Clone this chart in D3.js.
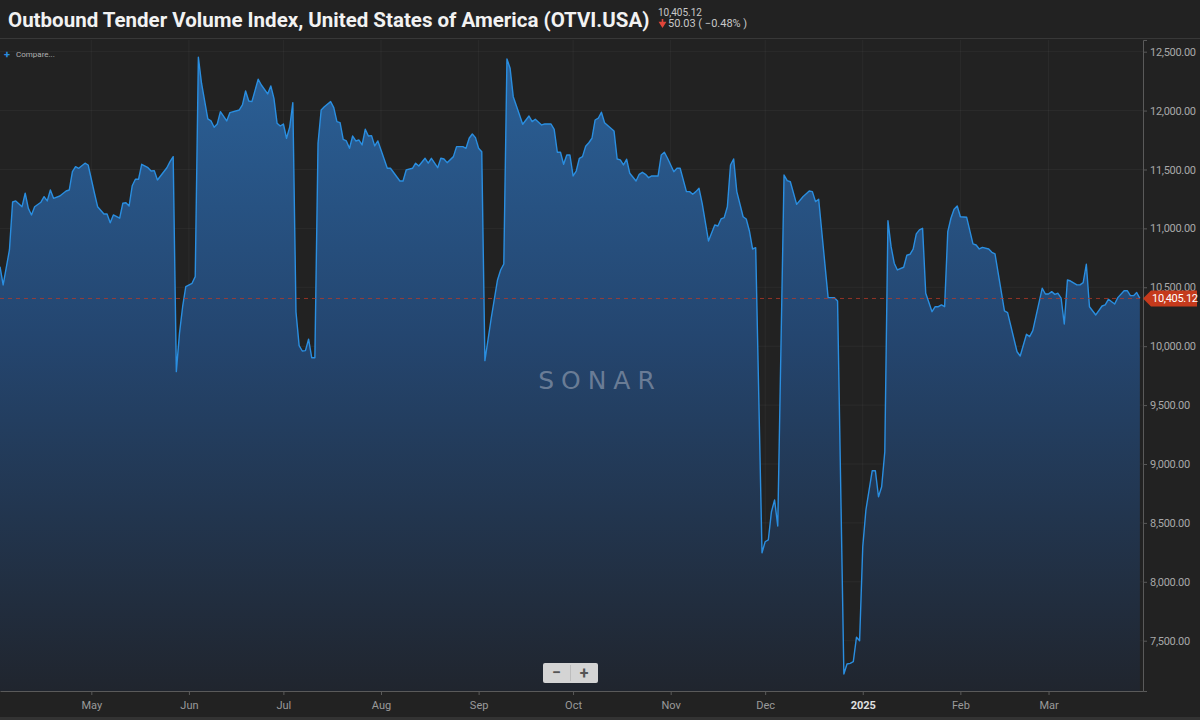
<!DOCTYPE html>
<html>
<head>
<meta charset="utf-8">
<script src="https://cdn.jsdelivr.net/npm/d3@7"></script>
<style>
  body { margin: 0; background: #222222; }
  svg { display: block; font-family: Roboto, "Noto Sans", sans-serif; }
</style>
</head>
<body>
<div id="chart"></div>
<script>
// Chart data: OTVI.USA daily readings
var dates = [
  "2024-04-02","2024-04-03","2024-04-05","2024-04-06","2024-04-07","2024-04-09","2024-04-10","2024-04-11","2024-04-12","2024-04-13",
  "2024-04-15","2024-04-16","2024-04-17","2024-04-18","2024-04-19","2024-04-21","2024-04-23","2024-04-24","2024-04-25","2024-04-26",
  "2024-04-27","2024-04-29","2024-04-30","2024-05-02","2024-05-03","2024-05-05","2024-05-06","2024-05-07","2024-05-08","2024-05-10",
  "2024-05-11","2024-05-12","2024-05-13","2024-05-14","2024-05-15","2024-05-16","2024-05-17","2024-05-19","2024-05-20","2024-05-21",
  "2024-05-22","2024-05-25","2024-05-26","2024-05-27","2024-05-28","2024-05-29","2024-05-30","2024-05-31","2024-06-02","2024-06-03",
  "2024-06-04","2024-06-05","2024-06-07","2024-06-08","2024-06-09","2024-06-10","2024-06-11","2024-06-13","2024-06-14","2024-06-17",
  "2024-06-18","2024-06-19","2024-06-20","2024-06-21","2024-06-23","2024-06-24","2024-06-26","2024-06-27","2024-06-28","2024-06-29",
  "2024-06-30","2024-07-01","2024-07-02","2024-07-03","2024-07-04","2024-07-05","2024-07-06","2024-07-07","2024-07-08","2024-07-09",
  "2024-07-10","2024-07-11","2024-07-12","2024-07-13","2024-07-14","2024-07-16","2024-07-17","2024-07-18","2024-07-19","2024-07-20",
  "2024-07-21","2024-07-22","2024-07-23","2024-07-24","2024-07-25","2024-07-26","2024-07-27","2024-07-28","2024-07-29","2024-07-30",
  "2024-07-31","2024-08-01","2024-08-03","2024-08-04","2024-08-07","2024-08-08","2024-08-09","2024-08-11","2024-08-12","2024-08-13",
  "2024-08-15","2024-08-16","2024-08-17","2024-08-19","2024-08-20","2024-08-21","2024-08-22","2024-08-24","2024-08-25","2024-08-27",
  "2024-08-28","2024-08-29","2024-08-30","2024-08-31","2024-09-01","2024-09-02","2024-09-03","2024-09-05","2024-09-07","2024-09-08",
  "2024-09-09","2024-09-10","2024-09-11","2024-09-12","2024-09-14","2024-09-15","2024-09-17","2024-09-18","2024-09-19","2024-09-21",
  "2024-09-22","2024-09-24","2024-09-25","2024-09-26","2024-09-27","2024-09-28","2024-09-29","2024-09-30","2024-10-01","2024-10-02",
  "2024-10-03","2024-10-04","2024-10-05","2024-10-06","2024-10-07","2024-10-08","2024-10-09","2024-10-10","2024-10-11","2024-10-14",
  "2024-10-15","2024-10-16","2024-10-17","2024-10-18","2024-10-19","2024-10-21","2024-10-22","2024-10-23","2024-10-24","2024-10-25",
  "2024-10-26","2024-10-28","2024-10-29","2024-10-30","2024-10-31","2024-11-02","2024-11-03","2024-11-04","2024-11-06","2024-11-07",
  "2024-11-08","2024-11-09","2024-11-10","2024-11-11","2024-11-13","2024-11-15","2024-11-16","2024-11-17","2024-11-18","2024-11-19",
  "2024-11-20","2024-11-21","2024-11-22","2024-11-24","2024-11-25","2024-11-26","2024-11-27","2024-11-28","2024-11-30","2024-12-01",
  "2024-12-02","2024-12-03","2024-12-04","2024-12-05","2024-12-07","2024-12-08","2024-12-09","2024-12-11","2024-12-13","2024-12-15",
  "2024-12-16","2024-12-17","2024-12-18","2024-12-21","2024-12-23","2024-12-24","2024-12-26","2024-12-27","2024-12-28","2024-12-29",
  "2024-12-30","2024-12-31","2025-01-01","2025-01-02","2025-01-04","2025-01-05","2025-01-06","2025-01-07","2025-01-08","2025-01-09",
  "2025-01-10","2025-01-11","2025-01-12","2025-01-14","2025-01-15","2025-01-16","2025-01-17","2025-01-18","2025-01-19","2025-01-20",
  "2025-01-21","2025-01-23","2025-01-24","2025-01-25","2025-01-26","2025-01-27","2025-01-28","2025-01-29","2025-01-30","2025-01-31",
  "2025-02-01","2025-02-03","2025-02-05","2025-02-06","2025-02-07","2025-02-08","2025-02-10","2025-02-11","2025-02-12","2025-02-15",
  "2025-02-16","2025-02-19","2025-02-20","2025-02-22","2025-02-23","2025-02-24","2025-02-27","2025-02-28","2025-03-01","2025-03-02",
  "2025-03-03","2025-03-04","2025-03-05","2025-03-06","2025-03-07","2025-03-08","2025-03-10","2025-03-11","2025-03-12","2025-03-13",
  "2025-03-14","2025-03-16","2025-03-18","2025-03-19","2025-03-20","2025-03-22","2025-03-23","2025-03-25","2025-03-26","2025-03-27",
  "2025-03-28","2025-03-29","2025-03-30"
];

var values = [
  10675, 10520, 10817, 11224, 11233, 11184, 11298, 11170, 11114, 11184,
  11222, 11269, 11233, 11326, 11255, 11275, 11317, 11326, 11481, 11524,
  11510, 11553, 11538, 11298, 11184, 11122, 11122, 11048, 11114, 11086,
  11213, 11218, 11190, 11362, 11417, 11417, 11544, 11515, 11487, 11490,
  11411, 11515, 11566, 11609, 9784, 10109, 10335, 10505, 10534, 10590,
  12452, 12232, 11929, 11912, 11858, 11886, 11991, 11912, 11982, 12005,
  12048, 12166, 12081, 12076, 12266, 12217, 12141, 12209, 12104, 11892,
  11869, 11886, 11765, 11858, 12067, 10290, 10005, 9959, 9962, 10059,
  9902, 9902, 11722, 12005, 12033, 12076, 12025, 11906, 11897, 11756,
  11742, 11680, 11784, 11742, 11750, 11708, 11841, 11784, 11787, 11700,
  11742, 11666, 11510, 11510, 11402, 11402, 11496, 11510, 11553, 11530,
  11595, 11553, 11595, 11515, 11595, 11589, 11558, 11609, 11694, 11694,
  11680, 11765, 11801, 11770, 11680, 11651, 9877, 10237, 10562, 10647,
  10698, 12438, 12359, 12118, 11963, 11884, 11954, 11906, 11926, 11878,
  11886, 11886, 11841, 11646, 11646, 11544, 11623, 11623, 11445, 11487,
  11595, 11609, 11697, 11727, 11765, 11920, 11935, 11986, 11897, 11827,
  11589, 11581, 11538, 11587, 11468, 11402, 11459, 11476, 11459, 11430,
  11445, 11445, 11623, 11646, 11595, 11481, 11510, 11510, 11312, 11312,
  11290, 11312, 11340, 11213, 10893, 11029, 11020, 11080, 11091, 11184,
  11538, 11589, 11312, 11099, 11080, 10978, 10825, 10836, 8247, 8340,
  8355, 8595, 8694, 8474, 11453, 11405, 11396, 11204, 11269, 11317,
  11312, 11227, 11247, 10412, 10412, 10384, 7217, 7302, 7308, 7322,
  7529, 7500, 8298, 8609, 8943, 8943, 8722, 8807, 9104, 11065,
  10845, 10704, 10647, 10670, 10772, 10780, 10823, 10953, 10987, 11001,
  10449, 10293, 10335, 10335, 10350, 10335, 10972, 11086, 11162, 11190,
  11099, 11094, 10868, 10859, 10825, 10839, 10825, 10797, 10783, 10299,
  10285, 9953, 9917, 10101, 10081, 10132, 10492, 10443, 10443, 10463,
  10440, 10449, 10407, 10188, 10562, 10553, 10520, 10520, 10539, 10695,
  10335, 10265, 10341, 10350, 10398, 10358, 10412, 10471, 10471, 10429,
  10429, 10455.15, 10405.12
];

var yTicks = [7500, 8000, 8500, 9000, 9500, 10000, 10500, 11000, 11500, 12000, 12500];
var xTicks = ["2024-05-01","2024-06-01","2024-07-01","2024-08-01","2024-09-01","2024-10-01",
              "2024-11-01","2024-12-01","2025-01-01","2025-02-01","2025-03-01"];
var lastValue = 10405.12;
var changeValue = 50.03;
var changePct = -0.48;

// SVG area dimensions
var svgWidth = 1200;
var svgHeight = 720;

var margin = { top: 40, right: 57, bottom: 29, left: 0 };
var chartWidth = svgWidth - margin.left - margin.right;
var chartHeight = svgHeight - margin.top - margin.bottom;

var parseDate = d3.timeParse("%Y-%m-%d");
var data = dates.map(function (d, i) { return { date: parseDate(d), value: values[i] }; });

var svg = d3.select("#chart")
    .append("svg")
    .attr("width", svgWidth)
    .attr("height", svgHeight);

svg.append("rect")
    .attr("width", svgWidth)
    .attr("height", svgHeight)
    .attr("fill", "#222222");

// header
svg.append("line")
    .attr("x1", 0).attr("x2", svgWidth)
    .attr("y1", 38.5).attr("y2", 38.5)
    .attr("stroke", "#383838");

svg.append("text")
    .attr("x", 8)
    .attr("y", 27)
    .attr("fill", "#f2f2f2")
    .attr("font-size", "20.5px")
    .attr("font-weight", 700)
    .text("Outbound Tender Volume Index, United States of America (OTVI.USA)");

svg.append("text")
    .attr("x", 658)
    .attr("y", 16)
    .attr("fill", "#c8c8c8")
    .attr("font-size", "10px")
    .text(d3.format(",.2f")(lastValue));

// red down arrow
svg.append("path")
    .attr("d", "M662.5,19 L662.5,24 M660,22.5 L662.5,26.5 L665,22.5 Z")
    .attr("stroke", "#e0453a")
    .attr("stroke-width", 1.6)
    .attr("fill", "#e0453a");

svg.append("text")
    .attr("x", 668)
    .attr("y", 27)
    .attr("fill", "#c8c8c8")
    .attr("font-size", "11px")
    .text(d3.format(".2f")(changeValue) + " ( " + d3.format(".2f")(changePct) + "% )");

var chartGroup = svg.append("g")
    .attr("transform", `translate(${margin.left}, ${margin.top})`);

// scales
var xTimeScale = d3.scaleTime()
    .domain([parseDate("2024-04-02"), parseDate("2025-03-31")])
    .range([0, chartWidth]);

var yLinearScale = d3.scaleLinear()
    .domain([7073, 12599])
    .range([chartHeight, 0]);

// gradient for the area fill
var defs = svg.append("defs");
var grad = defs.append("linearGradient")
    .attr("id", "areaFill")
    .attr("gradientUnits", "userSpaceOnUse")
    .attr("x1", 0).attr("x2", 0)
    .attr("y1", 0).attr("y2", chartHeight);
grad.append("stop").attr("offset", "0%").attr("stop-color", "#2b629a");
grad.append("stop").attr("offset", "45%").attr("stop-color", "#244670");
grad.append("stop").attr("offset", "100%").attr("stop-color", "#20252e");

// grid lines
chartGroup.append("g")
    .selectAll("line.vgrid")
    .data(xTicks)
    .enter()
    .append("line")
    .attr("x1", d => xTimeScale(parseDate(d)))
    .attr("x2", d => xTimeScale(parseDate(d)))
    .attr("y1", 0)
    .attr("y2", chartHeight)
    .attr("stroke", "#ffffff")
    .attr("stroke-opacity", 0.045);

chartGroup.append("g")
    .selectAll("line.hgrid")
    .data(yTicks)
    .enter()
    .append("line")
    .attr("x1", 0)
    .attr("x2", chartWidth)
    .attr("y1", d => yLinearScale(d))
    .attr("y2", d => yLinearScale(d))
    .attr("stroke", "#ffffff")
    .attr("stroke-opacity", 0.045);

// area + line
var area = d3.area()
    .x(d => xTimeScale(d.date))
    .y0(chartHeight)
    .y1(d => yLinearScale(d.value));

var line = d3.line()
    .x(d => xTimeScale(d.date))
    .y(d => yLinearScale(d.value));

chartGroup.append("path")
    .datum(data)
    .attr("d", area)
    .attr("fill", "url(#areaFill)");

chartGroup.append("path")
    .datum(data)
    .attr("d", line)
    .attr("fill", "none")
    .attr("stroke", "#2a8ee0")
    .attr("stroke-width", 1.4)
    .attr("stroke-linejoin", "round");

// watermark
chartGroup.append("text")
    .attr("x", 600)
    .attr("y", 389 - margin.top)
    .attr("text-anchor", "middle")
    .attr("fill", "#8a97ab")
    .attr("fill-opacity", 0.7)
    .attr("font-size", "25px")
    .attr("font-weight", 400)
    .attr("letter-spacing", "7px")
    .attr("font-family", "'DejaVu Sans', sans-serif")
    .text("SONAR");

// last value dashed line
chartGroup.append("line")
    .attr("x1", 0)
    .attr("x2", chartWidth)
    .attr("y1", yLinearScale(lastValue))
    .attr("y2", yLinearScale(lastValue))
    .attr("stroke", "#b83a28")
    .attr("stroke-opacity", 0.75)
    .attr("stroke-dasharray", "4,4");

// right axis
var rightAxis = d3.axisRight(yLinearScale)
    .tickValues(yTicks)
    .tickSize(4)
    .tickPadding(3)
    .tickFormat(d3.format(",.2f"));

var yAxis = chartGroup.append("g")
    .attr("transform", `translate(${chartWidth}, 0)`)
    .call(rightAxis);
yAxis.select(".domain").attr("stroke", "#5a5a5a");
yAxis.selectAll(".tick line").attr("stroke", "#5a5a5a");
yAxis.selectAll(".tick text")
    .attr("fill", "#a8a8a8")
    .attr("font-size", "11px")
    .attr("letter-spacing", "-0.3px")
    .attr("font-family", "Roboto, sans-serif");

// bottom axis
var bottomAxis = d3.axisBottom(xTimeScale)
    .tickValues(xTicks.map(parseDate))
    .tickSize(4)
    .tickPadding(6)
    .tickSizeOuter(0)
    .tickFormat(function (d) { return d.getMonth() === 0 ? d3.timeFormat("%Y")(d) : d3.timeFormat("%b")(d); });

var xAxis = chartGroup.append("g")
    .attr("transform", "translate(0," + chartHeight + ")")
    .call(bottomAxis);
xAxis.select(".domain").attr("stroke", "#5a5a5a");
xAxis.selectAll(".tick line").attr("stroke", "#5a5a5a");
xAxis.selectAll(".tick text")
    .attr("fill", d => d.getMonth() === 0 ? "#e0e0e0" : "#9a9a9a")
    .attr("font-weight", d => d.getMonth() === 0 ? 700 : 400)
    .attr("font-size", "11px")
    .attr("font-family", "Roboto, sans-serif");

// last value tag
var tagY = yLinearScale(lastValue);
var tag = chartGroup.append("g")
    .attr("transform", `translate(${chartWidth}, ${tagY})`);
tag.append("path")
    .attr("d", "M0,0 L8,-8 L54,-8 L54,8 L8,8 Z")
    .attr("fill", "#c53a1c");
tag.append("text")
    .attr("x", 9)
    .attr("y", 4)
    .attr("fill", "#ffffff")
    .attr("font-size", "11px")
    .attr("letter-spacing", "-0.3px")
    .text(d3.format(",.2f")(lastValue));

// compare button
svg.append("text")
    .attr("x", 4)
    .attr("y", 58)
    .attr("fill", "#2a8ee0")
    .attr("font-size", "11px")
    .attr("font-weight", 700)
    .text("+");
svg.append("text")
    .attr("x", 16)
    .attr("y", 57)
    .attr("fill", "#b0b0b0")
    .attr("font-size", "8px")
    .text("Compare...");

// zoom buttons
var zoomGroup = svg.append("g")
    .attr("transform", "translate(543, 663)");
zoomGroup.append("rect")
    .attr("width", 55)
    .attr("height", 20)
    .attr("rx", 2)
    .attr("fill", "#d4d4d4");
zoomGroup.append("line")
    .attr("x1", 27.5).attr("x2", 27.5)
    .attr("y1", 2).attr("y2", 18)
    .attr("stroke", "#bdbdbd");
zoomGroup.append("text")
    .attr("x", 13.5)
    .attr("y", 15)
    .attr("text-anchor", "middle")
    .attr("fill", "#555555")
    .attr("font-size", "16px")
    .attr("font-weight", 700)
    .text("\u2212");
zoomGroup.append("text")
    .attr("x", 41)
    .attr("y", 15.5)
    .attr("text-anchor", "middle")
    .attr("fill", "#555555")
    .attr("font-size", "16px")
    .attr("font-weight", 700)
    .text("+");

// bottom strip
svg.append("rect")
    .attr("x", 0)
    .attr("y", 717)
    .attr("width", svgWidth)
    .attr("height", 3)
    .attr("fill", "#333333");
</script>
</body>
</html>
